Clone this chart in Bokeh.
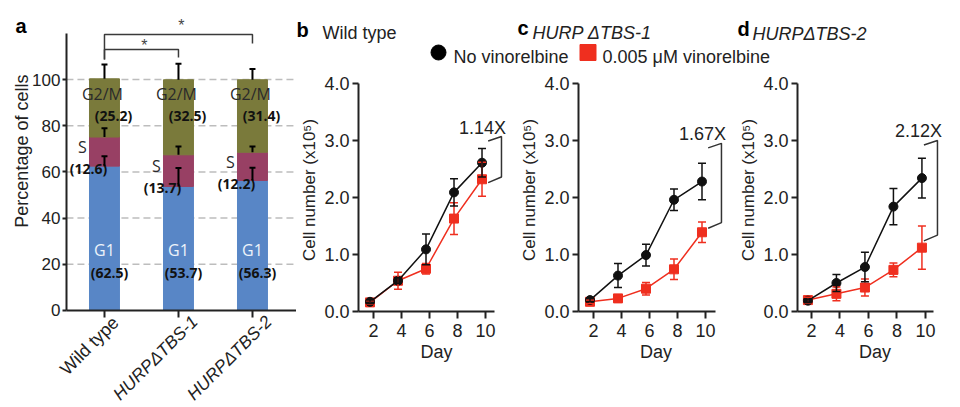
import numpy as np
from bokeh.plotting import figure
from bokeh.layouts import row, column
from bokeh.models import (Range1d, FixedTicker, Label, Whisker, TeeHead, Spacer,
                          ColumnDataSource, PrintfTickFormatter, LinearAxis)
from bokeh.embed import file_html
from bokeh.resources import INLINE

FONT = "Liberation Sans"
BAR_FONT = "Open Sans"
INK = "#222222"
C_G1 = "#5886c6"
C_S = "#984064"
C_G2M = "#7a7a3b"
RED = "#ef2f1f"
BLACK = "#111111"

# ---------------- data: panel a (cell-cycle distribution, %) ----------------
genotypes = ["Wild type", "HURPΔTBS-1", "HURPΔTBS-2"]
genotype_italic = [False, True, True]
g1_pct = [62.5, 53.7, 56.3]
s_pct = [12.6, 13.7, 12.2]
g2m_pct = [25.2, 32.5, 31.4]
g1_err = [4.3, 8.0, 5.5]
s_err = [3.8, 3.6, 2.5]
g2m_err = [6.2, 6.9, 4.7]
pct_ticks = [0, 20, 40, 60, 80, 100]
sig_pairs = [(1, 3), (1, 2)]
sig_level = [119.5, 113.0]
sig_left_end = [108.7, 108.7]
sig_right_end = [115.6, 109.5]
sig_star_gap = [9, 4]   # px between bracket and star

# ---------------- data: panels b-d (cell number x10^5) ----------------
days = [2, 4, 6, 8, 10]
wt_ctrl = [0.17, 0.54, 1.09, 2.09, 2.61]
wt_ctrl_err = [0.03, 0.05, 0.27, 0.24, 0.25]
wt_drug = [0.16, 0.54, 0.75, 1.63, 2.32]
wt_drug_err = [0.03, 0.15, 0.09, 0.28, 0.30]
t1_ctrl = [0.20, 0.63, 0.99, 1.96, 2.28]
t1_ctrl_err = [0.03, 0.21, 0.19, 0.19, 0.32]
t1_drug = [0.17, 0.23, 0.40, 0.74, 1.39]
t1_drug_err = [0.03, 0.03, 0.11, 0.18, 0.18]
t2_ctrl = [0.19, 0.50, 0.78, 1.84, 2.34]
t2_ctrl_err = [0.03, 0.15, 0.26, 0.32, 0.35]
t2_drug = [0.20, 0.31, 0.42, 0.73, 1.12]
t2_drug_err = [0.05, 0.12, 0.15, 0.12, 0.38]
fold_labels = ["1.14X", "1.67X", "2.12X"]
fold_top = [3.07, 2.95, 3.0]
fold_bottom = [2.36, 1.56, 1.34]
fold_x = [11.14, 11.14, 10.84]
cell_ticks = [0, 1, 2, 3, 4]
day_ticks = [2, 4, 6, 8, 10]
panel_titles = ["Wild type", "HURP ΔTBS-1", "HURPΔTBS-2"]
legend_labels = ["No vinorelbine", "0.005 μM vinorelbine"]
DAY_SHIFT = -0.25


def style_axis(ax, size):
    ax.axis_line_width = 2
    ax.axis_line_color = INK
    ax.major_tick_line_width = 2
    ax.major_tick_line_color = INK
    ax.major_tick_in = 0
    ax.minor_tick_line_color = None
    ax.major_label_text_font = FONT
    ax.major_label_text_font_size = size
    ax.major_label_text_color = INK
    ax.axis_label_text_font = FONT
    ax.axis_label_text_font_style = "normal"
    ax.axis_label_text_color = INK


def lab(p, x, y, text, size, xo=0, yo=0, color=INK, font=FONT, style="normal",
        align="center", baseline="middle", angle=0.0):
    p.add_layout(Label(x=x, y=y, text=text, x_offset=xo, y_offset=yo,
                       text_font=font, text_font_size=size, text_font_style=style,
                       text_color=color, text_align=align, text_baseline=baseline,
                       angle=angle))


# ======================= panel a =======================
AX0 = 0.486     # x position of the y axis (data units)
XA_END = 3.595
YA_START, YA_END = -41.13, 130.74
pa = figure(width=288, height=397, output_backend="svg", toolbar_location=None,
            x_range=Range1d(-0.297, XA_END), y_range=Range1d(YA_START, YA_END),
            x_axis_type=None, y_axis_type=None, min_border=0)
pa.outline_line_color = None

yax = LinearAxis(fixed_location=AX0, bounds=(0, 120), ticker=FixedTicker(ticks=pct_ticks))
style_axis(yax, "17px")
yax.major_tick_out = 4
yax.major_label_standoff = 2
pa.add_layout(yax, "left")

xax = LinearAxis(fixed_location=0, bounds=(AX0, XA_END), ticker=FixedTicker(ticks=[1, 2, 3]),
                 major_label_overrides={1: "", 2: "", 3: ""})
style_axis(xax, "17px")
xax.major_tick_out = 7
pa.add_layout(xax, "below")

grid_y = pct_ticks[1:]
pa.segment(x0=[AX0] * len(grid_y), x1=[XA_END] * len(grid_y), y0=grid_y, y1=grid_y,
           line_color="#bdbdbd", line_width=1.5, line_dash="7 4")

xa = np.arange(1, len(genotypes) + 1)
g1a = np.array(g1_pct)
sa = np.array(s_pct)
g2a = np.array(g2m_pct)
s_top = g1a + sa
g2_top = s_top + g2a
BW = 0.405
pa.vbar(x=xa, bottom=0, top=g1a, width=BW, color=C_G1)
pa.vbar(x=xa, bottom=g1a, top=s_top, width=BW, color=C_S)
pa.vbar(x=xa, bottom=s_top, top=g2_top, width=BW, color=C_G2M)

for tops, errs in [(g1a, g1_err), (s_top, s_err), (g2_top, g2m_err)]:
    src = ColumnDataSource(dict(x=xa, lo=tops, hi=tops + np.array(errs)))
    pa.add_layout(Whisker(source=src, base="x", lower="lo", upper="hi",
                          line_color="black", line_width=2, level="overlay",
                          upper_head=TeeHead(size=6, line_color="black", line_width=2),
                          lower_head=None))

# significance brackets
xs, ys = [], []
for (a, b), lv, le, re, gap in zip(sig_pairs, sig_level, sig_left_end, sig_right_end,
                                   sig_star_gap):
    xs.append([a, a, b, b])
    ys.append([le, lv, lv, re])
    lab(pa, (a + b) / 2, lv, "*", "16px", xo=3, yo=gap, color="#444444",
        baseline="alphabetic")
pa.multi_line(xs=xs, ys=ys, line_color="#3a3a3a", line_width=1.5)

# in-bar annotations
for i, xi in enumerate(xa):
    lab(pa, xi, 26.4, "G1", "16px", color="#eef3fa", font=BAR_FONT)
    lab(pa, xi, 16.5, f"({g1_pct[i]})", "14px", xo=5, color="#111111",
        font=BAR_FONT, style="bold")
    s_mid = g1_pct[i] + s_pct[i] / 2 + 1.8
    lab(pa, xi, s_mid, "S", "16px", xo=-22, color="#2a2a2a", font=BAR_FONT)
    lab(pa, xi, s_mid - 9.3, f"({s_pct[i]})", "14px", xo=-16, color="#111111",
        font=BAR_FONT, style="bold")
    lab(pa, xi, 93.9, "G2/M", "16px", xo=-2, color="#2a2a2a", font=BAR_FONT)
    lab(pa, xi, 84.4, f"({g2m_pct[i]})", "14px", xo=9, color="#111111",
        font=BAR_FONT, style="bold")

# rotated category labels
for xi, name, it in zip(xa, genotypes, genotype_italic):
    lab(pa, xi, 0, name, "17.5px" if it else "18px", xo=9 if it else 4,
        yo=-1 if it else -2, align="right", baseline="top",
        style="italic" if it else "normal", angle=np.pi / 4)

lab(pa, AX0, 69, "Percentage of cells", "18px", xo=-44, angle=np.pi / 2)
lab(pa, -0.297, YA_END, "a", "20px", xo=7, yo=-17, color="black", style="bold",
    align="left", baseline="alphabetic")


# ======================= panels b-d =======================
def growth_panel(width, left_border, x_start, x_end, axis_end,
                 ctrl, ctrl_err, drug, drug_err, k):
    p = figure(width=width, height=331, output_backend="svg", toolbar_location=None,
               x_range=Range1d(x_start, x_end), y_range=Range1d(0, 4.263),
               min_border_left=left_border, min_border_right=0, min_border_top=0,
               min_border_bottom=88)
    p.outline_line_color = None
    p.grid.grid_line_color = None
    style_axis(p.xaxis, "18px")
    style_axis(p.yaxis, "18px")
    p.yaxis.ticker = FixedTicker(ticks=cell_ticks)
    p.yaxis.formatter = PrintfTickFormatter(format="%.1f")
    p.yaxis.bounds = (0, 4)
    p.yaxis.major_tick_out = 6
    p.yaxis.major_label_standoff = 3
    p.yaxis.axis_label = "Cell number (x10⁵)"
    p.yaxis.axis_label_text_font_size = "17px"
    p.yaxis.axis_label_standoff = 2
    p.xaxis.ticker = FixedTicker(ticks=day_ticks)
    p.xaxis.bounds = (x_start, axis_end)
    p.xaxis.major_tick_out = 7
    p.xaxis.major_label_standoff = 5
    p.xaxis.axis_label = "Day"
    p.xaxis.axis_label_text_font_size = "18px"
    p.xaxis.axis_label_standoff = 2

    xd = np.array(days) + DAY_SHIFT
    for vals, errs, color, marker in [(drug, drug_err, RED, "square"),
                                       (ctrl, ctrl_err, BLACK, "circle")]:
        v = np.array(vals)
        e = np.array(errs)
        src = ColumnDataSource(dict(x=xd, y=v, lo=v - e, hi=v + e))
        p.line("x", "y", source=src, line_color=color, line_width=1.5)
        p.add_layout(Whisker(source=src, base="x", lower="lo", upper="hi",
                             line_color=color, line_width=1.5, level="glyph",
                             upper_head=TeeHead(size=8, line_color=color, line_width=1.5),
                             lower_head=TeeHead(size=8, line_color=color, line_width=1.5)))
        p.scatter("x", "y", source=src, marker=marker, size=9, color=color)

    fx, top, bot = fold_x[k], fold_top[k], fold_bottom[k]
    p.line(x=[fx - 0.95, fx, fx, fx - 0.95], y=[top - 0.08, top, bot, bot - 0.1],
           line_color="#333333", line_width=1.5)
    lab(p, fx, top, fold_labels[k], "18px", xo=-19, yo=9)
    return p


pb = growth_panel(218, 62, 0.929, 12.07, 10.64, wt_ctrl, wt_ctrl_err,
                  wt_drug, wt_drug_err, 0)
pc = growth_panel(219, 64, 0.929, 12.0, 10.71, t1_ctrl, t1_ctrl_err,
                  t1_drug, t1_drug_err, 1)
pd = growth_panel(219, 64, 1.018, 11.895, 10.56, t2_ctrl, t2_ctrl_err,
                  t2_drug, t2_drug_err, 2)

# ======================= header (titles + legend) =======================
hd = figure(width=656, height=60, output_backend="svg", toolbar_location=None,
            x_range=Range1d(0, 656), y_range=Range1d(60, 0),
            x_axis_type=None, y_axis_type=None, min_border=0)
hd.outline_line_color = None
for letter, lx, ly, title, tx, ty in [("b", 0, 21, panel_titles[0], 26, 24),
                                       ("c", 221, 19, panel_titles[1], 236, 24.5),
                                       ("d", 441, 20, panel_titles[2], 456, 25)]:
    hd.add_layout(Label(x=lx, y=ly, text=letter, text_font=FONT, text_font_size="20px",
                        text_font_style="bold", text_color="black",
                        text_align="left", text_baseline="alphabetic"))
    hd.add_layout(Label(x=tx, y=ty, text=title, text_font=FONT, text_font_size="18px",
                        text_font_style="normal" if letter == "b" else "italic",
                        text_color=INK, text_align="left", text_baseline="alphabetic"))
hd.scatter(x=[142], y=[44], marker="circle", size=15, color="black")
hd.scatter(x=[291.5], y=[44], marker="square", size=16, color=RED)
hd.add_layout(Label(x=157, y=48, text=legend_labels[0], text_font=FONT,
                    text_font_size="18px", text_color=INK, text_align="left",
                    text_baseline="alphabetic"))
hd.add_layout(Label(x=306, y=48, text=legend_labels[1], text_font=FONT,
                    text_font_size="18px", text_color=INK, text_align="left",
                    text_baseline="alphabetic"))

layout = column(Spacer(width=952, height=8),
                row(Spacer(width=8, height=397), pa, column(hd, row(pb, pc, pd))))
open("out.html", "w").write(file_html(layout, INLINE))
